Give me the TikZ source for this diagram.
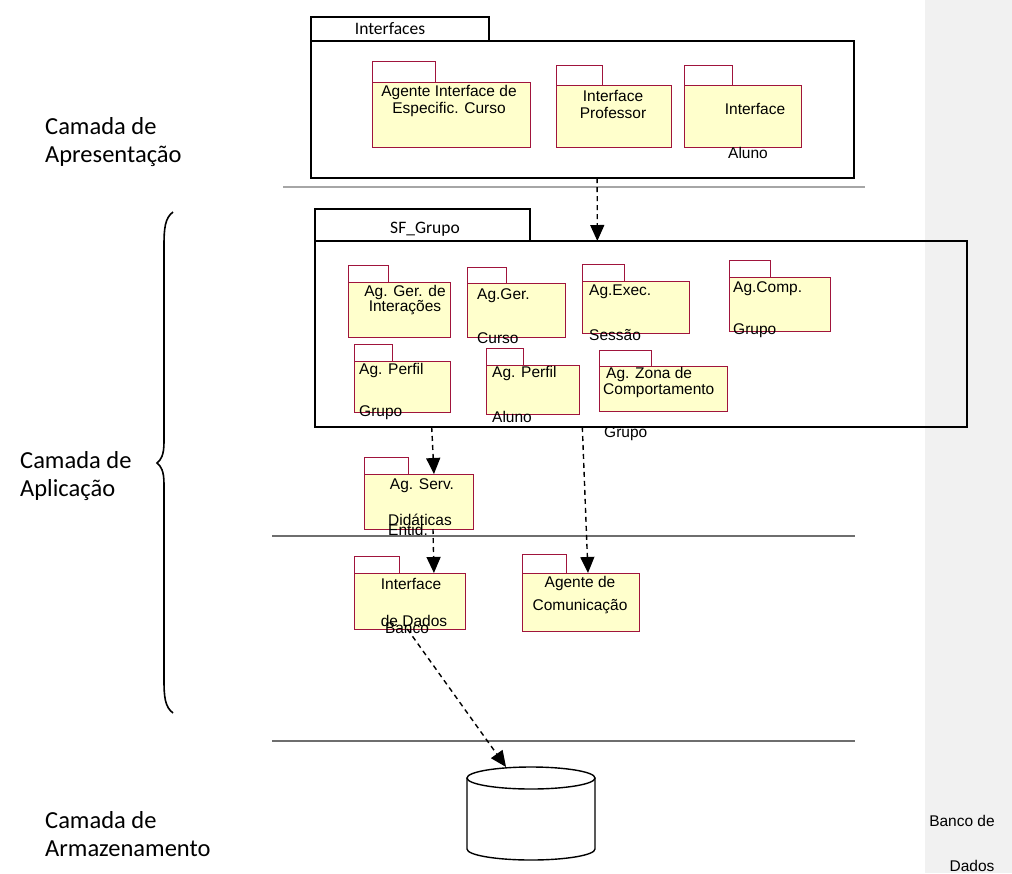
\documentclass[tikz,border=0pt]{standalone}
\usepackage{fontspec}
\setmainfont{Liberation Sans}
\newfontfamily\calibrilike{Carlito}
\usetikzlibrary{arrows.meta,calc}

\definecolor{pkgred}{RGB}{160,20,60}
\definecolor{pkgfill}{RGB}{255,255,204}
\definecolor{bandgray}{RGB}{241,241,241}
\definecolor{sepgray}{RGB}{110,110,110}

\tikzset{
  box/.style={inner sep=0pt, outer sep=0pt, anchor=north west},
  container/.style={box, draw=black, line width=1.3pt},
  conttab/.style={box, draw=black, line width=1.3pt, fill=white},
  pkgbody/.style={box, draw=pkgred, line width=1pt, fill=pkgfill},
  pkgtab/.style={box, draw=pkgred, line width=1pt, fill=white},
  pkgtext/.style={inner sep=0pt, font=\fontsize{15.5}{17}\selectfont, align=center},
  tabtext/.style={inner sep=0pt, font=\calibrilike\fontsize{17.5}{20}\selectfont},
  layer/.style={inner sep=0pt, anchor=west, align=left, font=\calibrilike\fontsize{24.5}{28}\selectfont},
  separator/.style={draw=sepgray, line width=1.1pt},
  dep/.style={draw=black, line width=1.4pt, dash pattern=on 5pt off 4pt,
    -{Triangle[length=16pt,width=14pt]}},
}

\begin{document}
\begin{tikzpicture}[x=1pt,y=-1pt]
\useasboundingbox (0,0) rectangle (1012,873);
\fill[white] (0,0) rectangle (1012,873);
% light side band
\fill[bandgray] (925,0) rectangle (1012,873);

% layer labels
\node[layer] (lapres) at (45,142) {Camada de\\Apresentação};
\node[layer] (lapl) at (20,476) {Camada de\\Aplicação};
\node[layer] (larm) at (45,834) {Camada de\\Armazenamento};

% brace of the application layer
\draw[line width=1.6pt] (173,212) .. controls (165,218) and (164,228) .. (164,246)
  -- (164,442) .. controls (164,455) and (161,460) .. (157,463)
  .. controls (161,466) and (164,471) .. (164,484)
  -- (164,680) .. controls (164,697) and (165,707) .. (173,713);

% layer separators
\draw[separator, draw=gray!70, line width=1.5pt] (283,187) -- (865,187);
\draw[separator] (272,536) -- (855,536);
\draw[separator] (272,741) -- (855,741);

% ---------- Interfaces ----------
\node[conttab, minimum width=178, minimum height=24] (ifct) at (311,17) {};
\node[tabtext] (ifclbl) at (390,29) {Interfaces};
\node[container, minimum width=543, minimum height=137] (ifcb) at (311,41) {};

\node[pkgtab, minimum width=63, minimum height=21] (a1t) at (372,61) {};
\node[pkgbody, minimum width=158, minimum height=65] (a1) at (372,82) {};
\node[pkgtext] (a1l) at (449,101) {Agente Interface de\\Especific. Curso};

\node[pkgtab, minimum width=46, minimum height=20] (a2t) at (556,65) {};
\node[pkgbody, minimum width=115, minimum height=62] (a2) at (556,85) {};
\node[pkgtext] (a2l) at (613,104) {Interface\\Professor};

\node[pkgtab, minimum width=48, minimum height=20] (a3t) at (684,65) {};
\node[pkgbody, minimum width=117, minimum height=62] (a3) at (684,85) {};
\node[pkgtext] (a3l) at (755,109) {Interface};
\node[pkgtext] (a3m) at (748,153) {Aluno};

% ---------- SF_Grupo ----------
\node[conttab, minimum width=215, minimum height=32] (sft) at (315,209) {};
\node[tabtext] (sflbl) at (425,229) {SF\_Grupo};
\node[container, minimum width=652, minimum height=186] (sfb) at (315,241) {};

\node[pkgtab, minimum width=40, minimum height=17] (b1t) at (348,265) {};
\node[pkgbody, minimum width=102, minimum height=55] (b1) at (348,282) {};
\node[pkgtext, font=\fontsize{15.5}{14}\selectfont] (b1l) at (405,300) {Ag. Ger. de\\Interações};

\node[pkgtab, minimum width=39, minimum height=16] (b2t) at (467,267) {};
\node[pkgbody, minimum width=98, minimum height=54] (b2) at (467,283) {};
\node[pkgtext, anchor=west] (b2l) at (477,296) {Ag.Ger.};
\node[pkgtext, anchor=west] (b2m) at (477,338) {Curso};

\node[pkgtab, minimum width=42, minimum height=17] (b3t) at (582,264) {};
\node[pkgbody, minimum width=107, minimum height=52] (b3) at (582,281) {};
\node[pkgtext, anchor=west] (b3l) at (589,292) {Ag.Exec.};
\node[pkgtext, anchor=west] (b3m) at (589,335) {Sessão};

\node[pkgtab, minimum width=41, minimum height=17] (b4t) at (729,260) {};
\node[pkgbody, minimum width=101, minimum height=54] (b4) at (729,277) {};
\node[pkgtext, anchor=west] (b4l) at (733,289) {Ag.Comp.};
\node[pkgtext, anchor=west] (b4m) at (733,331) {Grupo};

\node[pkgtab, minimum width=38, minimum height=17] (b5t) at (354,344) {};
\node[pkgbody, minimum width=96, minimum height=51] (b5) at (354,361) {};
\node[pkgtext, anchor=west] (b5l) at (359,370) {Ag. Perfil};
\node[pkgtext, anchor=west] (b5m) at (359,413) {Grupo};

\node[pkgtab, minimum width=37, minimum height=17] (b6t) at (486,348) {};
\node[pkgbody, minimum width=93, minimum height=49] (b6) at (486,365) {};
\node[pkgtext, anchor=west] (b6l) at (492,373) {Ag. Perfil};
\node[pkgtext, anchor=west] (b6m) at (492,417) {Aluno};

\node[pkgtab, minimum width=52, minimum height=16] (b7t) at (599,350) {};
\node[pkgbody, minimum width=128, minimum height=45] (b7) at (599,366) {};
\node[pkgtext, anchor=west] (b7l) at (606,374) {Ag. Zona de};
\node[pkgtext, anchor=west] (b7m) at (603,391) {Comportamento};
\node[pkgtext, anchor=west] (b7n) at (604,434) {Grupo};

% ---------- lower packages ----------
\node[pkgtab, minimum width=44, minimum height=17] (c1t) at (364,457) {};
\node[pkgbody, minimum width=109, minimum height=55] (c1) at (364,474) {};
\node[pkgtext] (c1l) at (422,486) {Ag. Serv.};
\node[pkgtext] (c1n) at (408,530) {Entid.};
\node[pkgtext] (c1m) at (420,520) {Didáticas};

\node[pkgtab, minimum width=45, minimum height=17] (c2t) at (354,556) {};
\node[pkgbody, minimum width=111, minimum height=56] (c2) at (354,573) {};
\node[pkgtext] (c2l) at (411,584) {Interface};
\node[pkgtext] (c2n) at (407,628) {Banco};
\node[pkgtext] (c2m) at (414,621) {de Dados};

\node[pkgtab, minimum width=44, minimum height=19] (c3t) at (522,554) {};
\node[pkgbody, minimum width=117, minimum height=58] (c3) at (522,573) {};
\node[pkgtext, font=\fontsize{15.5}{23}\selectfont] (c3l) at (580,595) {Agente de\\Comunicação};

% ---------- database ----------
\node[box, minimum width=128, minimum height=93] (db) at (467,767) {};
\draw[line width=1.4pt] (db.north west) ++(0,11) -- ++(0,71)
  arc[start angle=180, end angle=0, x radius=64, y radius=11] -- ++(0,-71);
\draw[line width=1.4pt] ($(db.north)+(0,11)$) ellipse [x radius=64, y radius=11];
\node[pkgtext] (dbl) at (962,821) {Banco de};
\node[pkgtext] (dbm) at (972,866) {Dados};

% ---------- dependencies ----------
\draw[dep] ($(ifcb.south west)!0.527!(ifcb.south east)$) -- ($(sfb.north west)!0.433!(sfb.north east)$);
\draw[dep] ($(sfb.south west)!0.179!(sfb.south east)$) -- ($(c1.north west)!0.642!(c1.north east)$);
\draw[dep] ($(c1.south west)!0.633!(c1.south east)$) -- ($(c2.north west)!0.72!(c2.north east)$);
\draw[dep] ($(sfb.south west)!0.41!(sfb.south east)$) -- ($(c3.north west)!0.564!(c3.north east)$);
\draw[dep] ($(c2.south west)!0.48!(c2.south east)$) -- ($(db.north west)!0.305!(db.north east)$);
\end{tikzpicture}
\end{document}
